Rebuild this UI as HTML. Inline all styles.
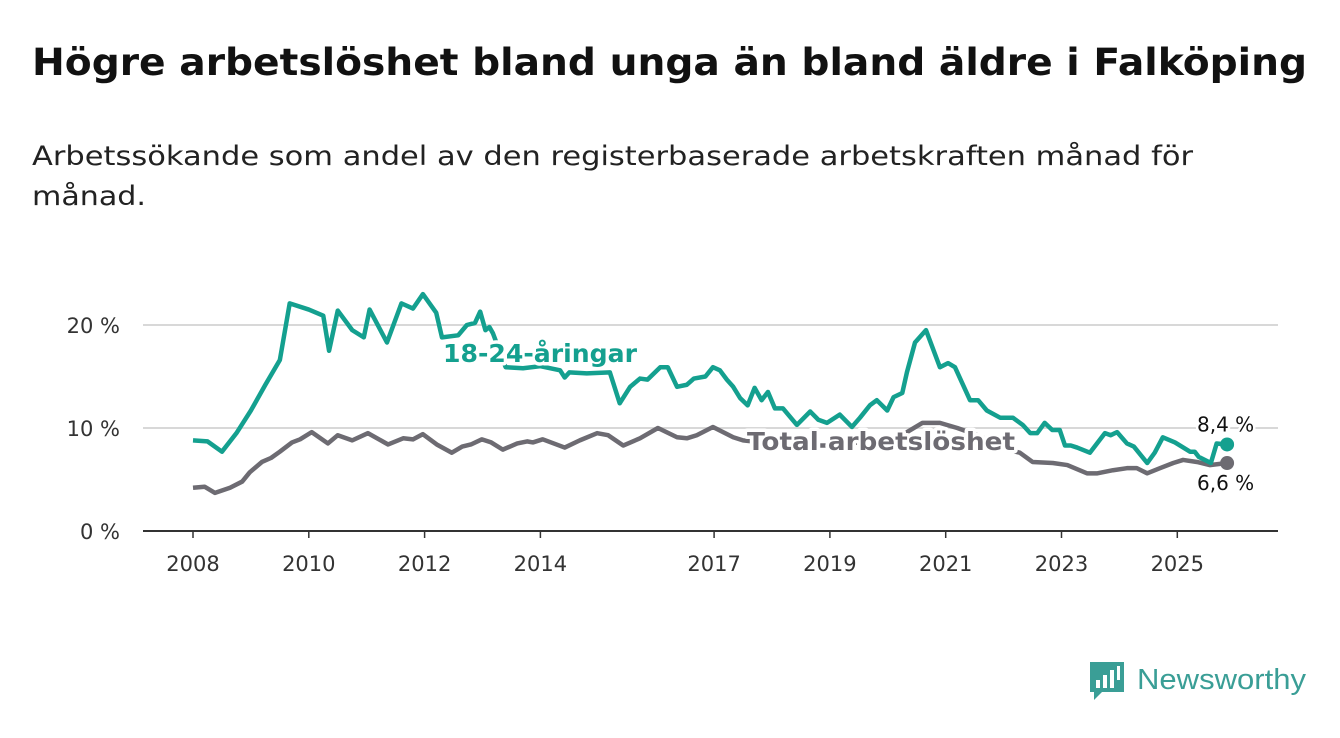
<!DOCTYPE html>
<html><head><meta charset="utf-8"><style>
body{margin:0;background:#fff;width:1340px;height:734px;overflow:hidden;font-family:"DejaVu Sans","Liberation Sans",sans-serif}
</style></head><body>
<svg width="1340" height="734" xmlns="http://www.w3.org/2000/svg">
<text x="32" y="75" font-size="37" font-weight="bold" fill="#111" textLength="1275" lengthAdjust="spacingAndGlyphs">Högre arbetslöshet bland unga än bland äldre i Falköping</text>
<text x="32" y="165" font-size="27" fill="#222" textLength="1161" lengthAdjust="spacingAndGlyphs">Arbetssökande som andel av den registerbaserade arbetskraften månad för</text>
<text x="32" y="205" font-size="27" fill="#222" textLength="114" lengthAdjust="spacingAndGlyphs">månad.</text>
<g id="grid"></g><g id="series"></g><g id="labels"></g>
<g>
<path d="M1090 662h34v30h-22l-8 8v-8h-4z" fill="#3a9e96"/>
<rect x="1096" y="680" width="4" height="8" fill="#fff"/><rect x="1103" y="675" width="4" height="13" fill="#fff"/><rect x="1110" y="670" width="4" height="18" fill="#fff"/><rect x="1117" y="666" width="3" height="14" fill="#fff"/>
<text x="1137" y="689" font-size="29" fill="#3a9e96" font-family="Liberation Sans" textLength="169" lengthAdjust="spacingAndGlyphs">Newsworthy</text></g>
</svg>
<script>
const yTicks=[0,10,20];
const xTicks=[2008,2010,2012,2014,2017,2019,2021,2023,2025];
const youthDates=[2008.0,2008.25,2008.5,2008.75,2009.0,2009.25,2009.5,2009.67,2010.0,2010.25,2010.35,2010.5,2010.75,2010.95,2011.05,2011.35,2011.6,2011.8,2011.97,2012.2,2012.3,2012.58,2012.73,2012.87,2012.96,2013.05,2013.12,2013.18,2013.4,2013.7,2014.0,2014.34,2014.42,2014.5,2014.8,2015.2,2015.37,2015.55,2015.72,2015.85,2016.07,2016.2,2016.36,2016.53,2016.65,2016.85,2016.98,2017.1,2017.22,2017.33,2017.45,2017.58,2017.7,2017.82,2017.93,2018.05,2018.19,2018.43,2018.66,2018.8,2018.95,2019.17,2019.38,2019.52,2019.69,2019.81,2019.99,2020.1,2020.25,2020.33,2020.47,2020.66,2020.9,2021.04,2021.16,2021.42,2021.56,2021.71,2021.94,2022.05,2022.16,2022.33,2022.46,2022.58,2022.71,2022.84,2022.97,2023.06,2023.16,2023.27,2023.49,2023.75,2023.85,2023.96,2024.13,2024.25,2024.48,2024.61,2024.75,2024.96,2025.22,2025.3,2025.37,2025.58,2025.68,2025.86];
const youthValues=[8.8,8.7,7.7,9.5,11.7,14.2,16.6,22.1,21.5,20.9,17.5,21.4,19.5,18.8,21.5,18.3,22.1,21.6,23.0,21.2,18.8,19.0,20.0,20.2,21.3,19.5,19.8,19.2,15.9,15.8,16.0,15.6,14.9,15.4,15.3,15.4,12.4,14.0,14.8,14.7,15.9,15.9,14.0,14.2,14.8,15.0,15.9,15.6,14.7,14.0,12.9,12.2,13.9,12.7,13.5,11.9,11.9,10.3,11.6,10.8,10.5,11.3,10.1,11.0,12.2,12.7,11.7,13.0,13.4,15.4,18.3,19.5,15.9,16.3,15.9,12.7,12.7,11.7,11.0,11.0,11.0,10.3,9.5,9.5,10.5,9.8,9.8,8.3,8.3,8.1,7.6,9.5,9.3,9.6,8.5,8.2,6.6,7.6,9.1,8.6,7.7,7.7,7.2,6.6,8.5,8.4];
const totalDates=[2008.0,2008.2,2008.38,2008.64,2008.85,2008.98,2009.19,2009.35,2009.5,2009.71,2009.85,2010.05,2010.33,2010.5,2010.75,2011.02,2011.37,2011.63,2011.8,2011.97,2012.21,2012.47,2012.65,2012.8,2012.99,2013.15,2013.35,2013.6,2013.77,2013.87,2014.04,2014.42,2014.68,2014.98,2015.17,2015.43,2015.72,2016.03,2016.36,2016.53,2016.7,2016.98,2017.33,2017.5,2018.0,2018.5,2019.0,2019.5,2020.0,2020.3,2020.6,2020.9,2021.2,2021.6,2022.0,2022.28,2022.5,2022.85,2023.1,2023.44,2023.62,2023.89,2024.13,2024.3,2024.48,2024.7,2024.93,2025.1,2025.34,2025.56,2025.86];
const totalValues=[4.2,4.3,3.7,4.2,4.8,5.7,6.7,7.1,7.7,8.6,8.9,9.6,8.5,9.3,8.8,9.5,8.4,9.0,8.9,9.4,8.4,7.6,8.2,8.4,8.9,8.6,7.9,8.5,8.7,8.6,8.9,8.1,8.8,9.5,9.3,8.3,9.0,10.0,9.1,9.0,9.3,10.1,9.1,8.8,8.5,8.3,8.3,8.6,8.8,9.5,10.5,10.5,10.0,9.2,8.0,7.6,6.7,6.6,6.4,5.6,5.6,5.9,6.1,6.1,5.6,6.1,6.6,6.9,6.7,6.4,6.6];
const NS="http://www.w3.org/2000/svg";
const xS=d=>193+(d-2008)*57.9;
const yS=v=>531-v*10.3;
function mk(tag,at,parent){const e=document.createElementNS(NS,tag);for(const k in at)e.setAttribute(k,at[k]);document.getElementById(parent).appendChild(e);return e;}
yTicks.forEach(t=>{
 if(t>0){const g=mk('line',{x1:143,x2:1278,y1:yS(t),y2:yS(t),stroke:'#d8d8d8','stroke-width':2},'grid');
 
 }
 const l=mk('text',{x:120,y:yS(t)+8,'text-anchor':'end','font-size':21,fill:'#333'},'grid');l.textContent=t+' %';
 
 
});
const ax=mk('line',{x1:143,x2:1278,y1:531,y2:531,stroke:'#333','stroke-width':2},'grid');


xTicks.forEach(t=>{
 const tk=mk('line',{x1:xS(t),x2:xS(t),y1:531,y2:538,stroke:'#333','stroke-width':1.5},'grid');
 
 
 const l=mk('text',{x:xS(t),y:571,'text-anchor':'middle','font-size':21,fill:'#333'},'grid');l.textContent=t;
 
 
});
function line(ds,vs,col,name){
 const p=mk('polyline',{points:ds.map((d,i)=>xS(d)+','+yS(vs[i])).join(' '),fill:'none',stroke:col,'stroke-width':4.5,'stroke-linejoin':'round'},'series');
 
 
 const n=ds.length-1;
 const c=mk('circle',{cx:xS(ds[n]),cy:yS(vs[n]),r:7,fill:col},'series');
 
 
}
line(totalDates,totalValues,'#6d6b72','total-line');
line(youthDates,youthValues,'#14a08f','youth-line');
function lbl(x,y,txt,col,size,bold,name,len){
 const at={x:x,y:y,'font-size':size,'font-weight':bold?'bold':'normal',fill:col,stroke:'#fff','stroke-width':bold?7:5,'paint-order':'stroke','stroke-linejoin':'round'};
 if(len){at.textLength=len;at.lengthAdjust='spacingAndGlyphs';}
 const t=mk('text',at,'labels');
 t.textContent=txt;
 
 
}
lbl(443,362,'18-24-åringar','#14a08f',25,true,'youth-series-label',194);
lbl(747,450,'Total arbetslöshet','#6d6b72',25,true,'total-series-label',268);
const yn=youthValues.length-1, tn=totalValues.length-1;
lbl(1197,yS(youthValues[yn])-13,String(youthValues[yn]).replace('.',',')+' %','#111',20,false,'youth-end-value');
lbl(1197,yS(totalValues[tn])+27,String(totalValues[tn]).replace('.',',')+' %','#111',20,false,'total-end-value');
</script>
</body></html>
